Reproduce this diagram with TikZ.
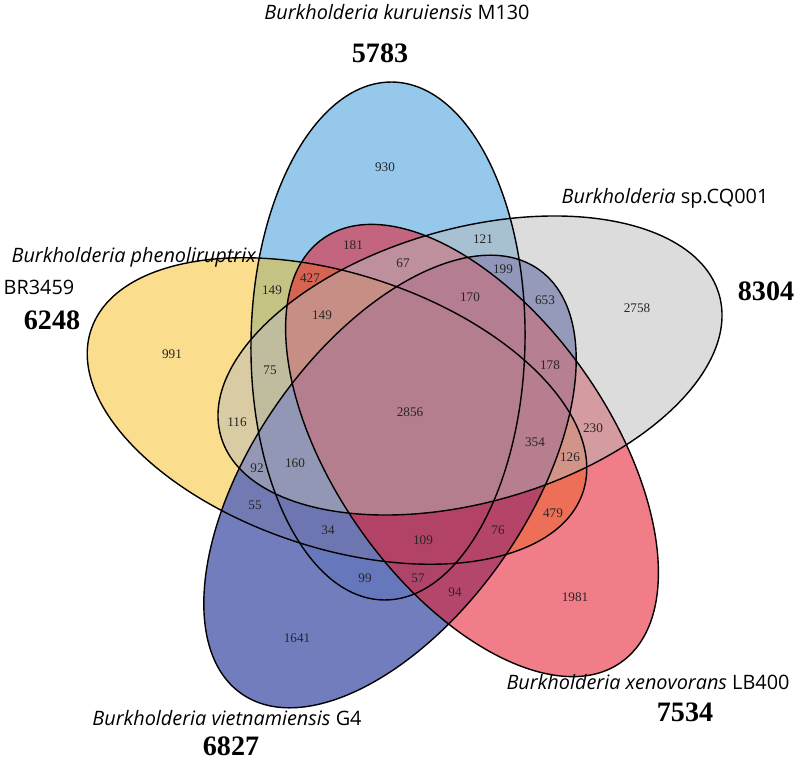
\documentclass[tikz,border=0pt]{standalone}
\usepackage{fontspec}
\usepackage{tikz}
\newfontfamily\numfont{Liberation Serif}
\newfontfamily\labfont{Open Sans}
\definecolor{kublue}{RGB}{45,145,215}
\definecolor{phyellow}{RGB}{245,190,30}
\definecolor{vipurple}{RGB}{99,111,183}
\definecolor{xered}{RGB}{229,30,47}
\definecolor{cqgray}{RGB}{185,185,185}

\begin{document}
\begin{tikzpicture}[x=0.02cm,y=0.02cm,
  num/.style={font=\numfont\fontsize{7.5}{9}\selectfont,text=black!85},
  total/.style={font=\numfont\bfseries\fontsize{16}{18}\selectfont},
  species/.style={font=\labfont\fontsize{11.3}{13}\selectfont,anchor=base}]
\useasboundingbox (0,0) rectangle (800,761);
% set fills
\fill[kublue,fill opacity=0.5,rotate around={89:(388,420)}] (388,420) ellipse [x radius=259,y radius=137];
\fill[phyellow,fill opacity=0.5,rotate around={-18.2:(337,350)}] (337,350) ellipse [x radius=259,y radius=137];
\fill[vipurple,fill opacity=0.9,rotate around={55:(390,279.5)}] (390,279.5) ellipse [x radius=259,y radius=137];
\fill[xered,fill opacity=0.577,rotate around={-54.9:(472,310.5)}] (472,310.5) ellipse [x radius=259,y radius=137];
\fill[cqgray,fill opacity=0.5,rotate around={15.8:(470,395.5)}] (470,395.5) ellipse [x radius=259,y radius=137];
% outlines
\draw[thick,rotate around={89:(388,420)}] (388,420) ellipse [x radius=259,y radius=137];
\draw[thick,rotate around={-18.2:(337,350)}] (337,350) ellipse [x radius=259,y radius=137];
\draw[thick,rotate around={55:(390,279.5)}] (390,279.5) ellipse [x radius=259,y radius=137];
\draw[thick,rotate around={-54.9:(472,310.5)}] (472,310.5) ellipse [x radius=259,y radius=137];
\draw[thick,rotate around={15.8:(470,395.5)}] (470,395.5) ellipse [x radius=259,y radius=137];

% region counts
\node[num] (n930) at (385,594) {930};
\node[num] (n181) at (353,516) {181};
\node[num] (n427) at (310,483) {427};
\node[num] (n149a) at (272,471) {149};
\node[num] (n67) at (403,498) {67};
\node[num] (n121) at (483,522) {121};
\node[num] (n199) at (503,492) {199};
\node[num] (n653) at (545,461) {653};
\node[num] (n2758) at (637,453) {2758};
\node[num] (n170) at (470,464) {170};
\node[num] (n149b) at (322,446) {149};
\node[num] (n991) at (172,407) {991};
\node[num] (n75) at (270,391) {75};
\node[num] (n178) at (550,396) {178};
\node[num] (n2856) at (410,349) {2856};
\node[num] (n116) at (237,339) {116};
\node[num] (n230) at (593,333) {230};
\node[num] (n354) at (535,319) {354};
\node[num] (n126) at (570,304) {126};
\node[num] (n160) at (295,298) {160};
\node[num] (n92) at (257,293) {92};
\node[num] (n55) at (255,256) {55};
\node[num] (n479) at (553,248) {479};
\node[num] (n34) at (328,231) {34};
\node[num] (n76) at (498,231) {76};
\node[num] (n109) at (423,221) {109};
\node[num] (n99) at (365,183) {99};
\node[num] (n57) at (418,183) {57};
\node[num] (n94) at (455,169) {94};
\node[num] (n1981) at (575,164) {1981};
\node[num] (n1641) at (297,123) {1641};

% species and totals
\node[species] (kuru) at (397,741) {\textit{Burkholderia kuruiensis} M130};
\node[total] (kurutot) at (380,708) {5783};
\node[species] (phen) at (134,498) {\textit{Burkholderia phenoliruptrix}};
\node[species] (phenstr) at (39,466) {BR3459};
\node[total] (phentot) at (52,441) {6248};
\node[species] (cq) at (665,557) {\textit{Burkholderia} sp.CQ001};
\node[total] (cqtot) at (766,470) {8304};
\node[species] (xeno) at (648,72) {\textit{Burkholderia xenovorans} LB400};
\node[total] (xenotot) at (685,49) {7534};
\node[species] (viet) at (227,36) {\textit{Burkholderia vietnamiensis} G4};
\node[total] (viettot) at (231,15) {6827};
\end{tikzpicture}
\end{document}
